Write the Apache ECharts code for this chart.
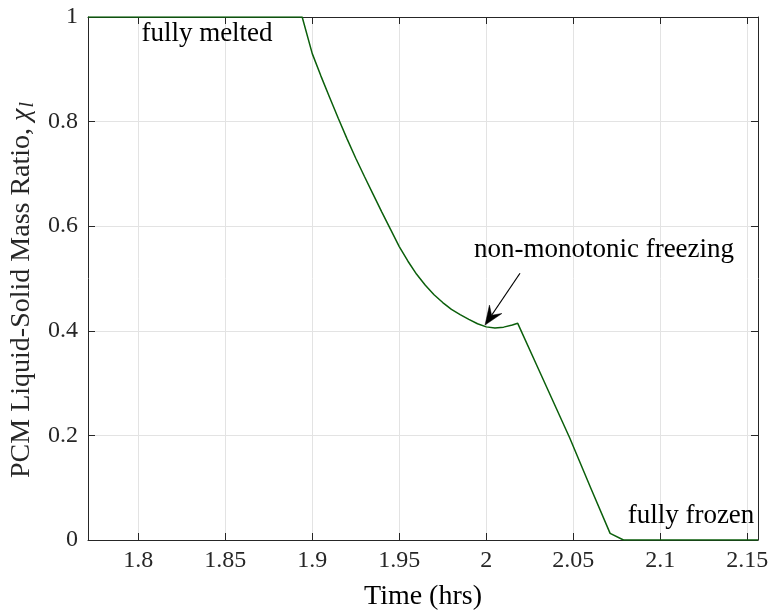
<!DOCTYPE html>
<html>
<head>
<meta charset="utf-8">
<script src="https://cdn.jsdelivr.net/npm/echarts@6/dist/echarts.min.js"></script>
<style>
  html, body { margin: 0; padding: 0; background: #ffffff; }
  #chart { width: 772px; height: 615px; }
</style>
</head>
<body>
<div id="chart"></div>
<script>
// PCM liquid fraction during the freezing phase
const timeHrs = [1.7711, 1.8942, 1.9, 1.905, 1.91, 1.915, 1.92, 1.925, 1.93, 1.935, 1.94, 1.945,
  1.95, 1.955, 1.96, 1.965, 1.97, 1.975, 1.98, 1.985, 1.99, 1.995, 2.0, 2.005, 2.01, 2.015,
  2.0181, 2.03, 2.048, 2.06, 2.0712, 2.0789, 2.1562];
const liquidRatio = [1, 1, 0.930, 0.887, 0.846, 0.806, 0.767, 0.730, 0.695, 0.661, 0.627, 0.594,
  0.561, 0.533, 0.508, 0.487, 0.469, 0.454, 0.441, 0.431, 0.422, 0.4135, 0.4075, 0.4055, 0.407, 0.411,
  0.4143, 0.327, 0.195, 0.100, 0.0127, 0, 0];

const xTicks = [1.8, 1.85, 1.9, 1.95, 2, 2.05, 2.1, 2.15];
const yTicks = [0, 0.2, 0.4, 0.6, 0.8, 1];
const xRange = [1.7711, 2.1562];
const yRange = [0, 1];

// annotation arrow, in data units: tail near the label, head on the dip
const arrowTail = [2.0194, 0.510];
const arrowHead = [1.9993, 0.411];

const FONT = 'Liberation Serif';
const INK = '#262626';
const GRID = '#e3e3e3';

const chart = echarts.init(document.getElementById('chart'), null, { renderer: 'canvas' });

function fmt(v) { return String(+v.toFixed(4)); }

const tickStyle = { show: true, inside: true, length: 7, lineStyle: { color: INK, width: 1 } };
const lineAxis = { show: true, onZero: false, lineStyle: { color: INK, width: 1 } };

chart.setOption({
  animation: false,
  backgroundColor: '#ffffff',
  grid: { left: 88, top: 17, right: 14, bottom: 75, containLabel: false },
  xAxis: [
    {
      type: 'value', position: 'bottom', min: xRange[0], max: xRange[1],
      axisLine: lineAxis,
      axisTick: Object.assign({ customValues: xTicks }, tickStyle),
      axisLabel: { customValues: xTicks, formatter: fmt, color: INK, fontFamily: FONT, fontSize: 24, margin: 9 },
      splitLine: { show: true, lineStyle: { color: GRID, width: 1 } }
    },
    {
      type: 'value', position: 'top', min: xRange[0], max: xRange[1],
      axisLine: lineAxis,
      axisTick: Object.assign({ customValues: xTicks }, tickStyle),
      axisLabel: { show: false },
      splitLine: { show: false }
    }
  ],
  yAxis: [
    {
      type: 'value', position: 'left', min: yRange[0], max: yRange[1], interval: 0.2,
      axisLine: lineAxis,
      axisTick: tickStyle,
      axisLabel: { formatter: fmt, color: INK, fontFamily: FONT, fontSize: 24, margin: 10 },
      splitLine: { show: true, lineStyle: { color: GRID, width: 1 } }
    },
    {
      type: 'value', position: 'right', min: yRange[0], max: yRange[1], interval: 0.2,
      axisLine: lineAxis,
      axisTick: tickStyle,
      axisLabel: { show: false },
      splitLine: { show: false }
    }
  ],
  series: [{
    type: 'line',
    xAxisIndex: 0, yAxisIndex: 0,
    data: timeHrs.map((t, i) => [t, liquidRatio[i]]),
    showSymbol: false,
    symbol: 'none',
    lineStyle: { color: '#0b5f0b', width: 1.5 },
    z: 5
  }]
});

// arrowhead geometry in pixels
const tail = chart.convertToPixel({ xAxisIndex: 0, yAxisIndex: 0 }, arrowTail);
const head = chart.convertToPixel({ xAxisIndex: 0, yAxisIndex: 0 }, arrowHead);
const dx = head[0] - tail[0], dy = head[1] - tail[1];
const len = Math.hypot(dx, dy);
const ux = dx / len, uy = dy / len;
const nx = -uy, ny = ux;
const headLen = 19, headHalf = 7.5, notch = 0.62;
const backX = head[0] - ux * headLen, backY = head[1] - uy * headLen;
const notchPt = [head[0] - ux * headLen * notch, head[1] - uy * headLen * notch];

const textStyle = (txt, size) => ({ text: txt, fontFamily: FONT, fontSize: size, fill: '#000000', align: 'center', verticalAlign: 'middle' });

chart.setOption({
  graphic: [
    { type: 'text', x: 207, y: 34, style: textStyle('fully melted', 27), z: 10 },
    { type: 'text', x: 604, y: 250, style: textStyle('non-monotonic freezing', 27), z: 10 },
    { type: 'text', x: 691, y: 516, style: textStyle('fully frozen', 27), z: 10 },
    {
      type: 'line', z: 10,
      shape: { x1: tail[0], y1: tail[1], x2: notchPt[0], y2: notchPt[1] },
      style: { stroke: '#000000', lineWidth: 1.2 }
    },
    {
      type: 'polygon', z: 10,
      shape: { points: [
        [head[0], head[1]],
        [backX + nx * headHalf, backY + ny * headHalf],
        notchPt,
        [backX - nx * headHalf, backY - ny * headHalf]
      ] },
      style: { fill: '#000000', stroke: '#000000', lineWidth: 0.5 }
    },
    {
      type: 'text', x: 423, y: 597, z: 10,
      style: textStyle('Time (hrs)', 28)
    },
    {
      type: 'text', x: 22, y: 290, rotation: Math.PI / 2, z: 10,
      style: {
        text: '{a|PCM Liquid-Solid Mass Ratio, }{chi|χ}{sub|l}',
        align: 'center', verticalAlign: 'middle',
        rich: {
          a: { fontFamily: FONT, fontSize: 28, fill: INK, color: INK },
          chi: { fontFamily: FONT, fontSize: 28, fontStyle: 'italic', fill: INK, color: INK },
          sub: { fontFamily: FONT, fontSize: 20, fontStyle: 'italic', fill: INK, color: INK, padding: [12, 0, 0, 1] }
        }
      }
    }
  ]
});
</script>
</body>
</html>
